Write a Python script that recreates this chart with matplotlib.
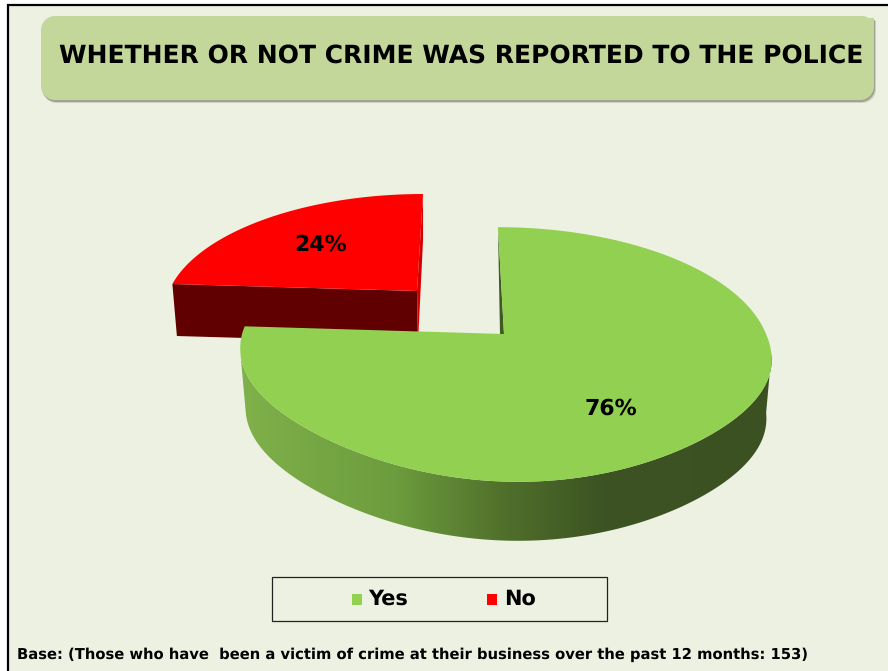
# 3D-style exploded pie: whether crime was reported to the police
import numpy as np
import matplotlib
matplotlib.use('Agg')
import matplotlib.pyplot as plt
from matplotlib.patches import Polygon, Rectangle
from matplotlib.colors import LinearSegmentedColormap

plt.rcParams['text.hinting'] = 'none'

categories = ['Yes', 'No']
shares = [76, 24]
slice_labels = ['76%', '24%']
title_text = 'WHETHER OR NOT CRIME WAS REPORTED TO THE POLICE'
base_text = 'Base: (Those who have  been a victim of crime at their business over the past 12 months: 153)'

BG = '#EDF1E1'
GREEN = '#91D050'
RED = '#FF0000'
DARK_RED = '#600000'
BANNER = '#C4D79B'

# shading along the visible rim of the big slice, left to right
rim_cmap = LinearSegmentedColormap.from_list(
    'rim', [(0.0, '#81B24B'), (0.3, '#6C9C3D'), (0.5, '#506F2B'),
            (0.68, '#3C5323'), (1.0, '#3C5122')])


# tilted disc with some perspective, angles run clockwise from 12 o'clock
# s leans the far half sideways, s_front the near half; c tucks in the near corners
def project(theta, apex, a, b, k, s, s_front=None, c=0):
    t = np.radians(theta)
    u = np.sin(t)
    v = -np.cos(t)
    den = 1 - k * v
    lean = np.where(v > 0, s if s_front is None else s_front, s)
    tuck = c * (u * np.clip(v, 0, None)) ** 2
    return apex[0] + (b * u + lean * v) / den, apex[1] + a * v / den - tuck


def wedge_outline(t0, t1, **view):
    th = np.linspace(t0, t1, 200)
    x, y = project(th, **view)
    return np.vstack([[view['apex']], np.column_stack([x, y])])


# rounded banner outline, top right corner is nearly square
def banner_outline(x0, y0, x1, y1, r):
    def arc(cx, cy, a0):
        return [(cx + r * np.cos(np.radians(a)), cy + r * np.sin(np.radians(a)))
                for a in np.linspace(a0, a0 + 90, 16)]
    pts = arc(x0 + r, y0 + r, 180)
    pts += [(x1 - 10, y0), (x1 - 5, y0 + 2), (x1, y0 + 2)]
    pts += arc(x1 - r, y1 - r, 0)
    pts += arc(x0 + r, y1 - r, 90)
    return pts


fig = plt.figure(figsize=(8.88, 6.71), dpi=100, facecolor='white')
ax = fig.add_axes([0, 0, 1, 1])

# chart area with its frame on the left and top
ax.add_patch(Rectangle((8, 5), 890, 680, fc=BG, ec='black', lw=1.6, zorder=1))

# title banner with a thin shadow
outline = banner_outline(41, 16, 874, 100, 14)
for off, alpha in [(3, 0.25), (2, 0.5)]:
    ax.add_patch(Polygon([(x + off - 1, y + off) for x, y in outline], fc='#6F7564', ec='none',
                         alpha=alpha, zorder=2))
ax.add_patch(Polygon(outline, fc=BANNER, ec='none', zorder=3))
ax.text(461.5, 56, title_text, ha='center', va='center', fontsize=18, fontweight='bold',
        color='black', zorder=4)

split = 360 * shares[0] / sum(shares)

# small slice, pulled away to the upper left
red_view = dict(apex=(417, 291), a=112.5, b=248, k=0.16, s=-7)
red_depth = 52
xl, yl = project(split, **red_view)
xf, yf = project(360, **red_view)
ax.add_patch(Polygon([(xl, yl), red_view['apex'], (418, 291 + red_depth), (xl + 4.5, yl + red_depth)],
                     fc=DARK_RED, ec='none', zorder=5))
ax.add_patch(Polygon([(xf, yf), (xf, yf + 46), (418, 291 + red_depth), red_view['apex']],
                     fc='#D40000', ec='none', zorder=5))
ax.add_patch(Polygon(wedge_outline(split, 360, **red_view), fc=RED, ec='none', zorder=6))

# big slice: rim between the two silhouette points, then inner wall and top face
green_view = dict(apex=(504, 334), a=124, b=262, k=0.161, s=7, s_front=12, c=22)
green_depth = 59
x_shrink = 0.98
x_mid = 505
sil = np.degrees(np.arcsin(green_view['k']))
angles = np.linspace(90 + sil, 270 - sil, 300)
rx, ry = project(angles, **green_view)
bx = x_mid + (rx - x_mid) * x_shrink
by = ry + green_depth
rim_shape = Polygon(np.vstack([np.column_stack([rx, ry]), np.column_stack([bx, by])[::-1]]),
                    transform=ax.transData, fc='none', ec='none')
ax.add_patch(rim_shape)
rim_img = ax.imshow(np.linspace(0, 1, 526).reshape(1, -1), cmap=rim_cmap, aspect='auto',
                    extent=(230, 780, 550, 320), zorder=7, interpolation='bilinear')
rim_img.set_clip_path(rim_shape)

xt, yt = project(0, **green_view)
ax.add_patch(Polygon([(xt, yt), (504, 334), (500, 334)], fc='#3F5A22', ec='none', zorder=7))
ax.add_patch(Polygon(wedge_outline(0, split, **green_view), fc=GREEN, ec='none', zorder=8))

# value labels
ax.text(321, 245, slice_labels[1], ha='center', va='center', fontsize=15.8, fontweight='bold', zorder=9)
ax.text(611, 409, slice_labels[0], ha='center', va='center', fontsize=15.8, fontweight='bold', zorder=9)

# legend box
ax.add_patch(Rectangle((272, 577), 335, 44, fc=BG, ec='#222222', lw=0.9, zorder=2))
ax.add_patch(Rectangle((352, 594), 10, 11, fc=GREEN, ec='none', zorder=3))
ax.text(368.5, 599, categories[0], ha='left', va='center', fontsize=15, fontweight='bold', zorder=3)
ax.add_patch(Rectangle((487, 594), 10, 11, fc=RED, ec='none', zorder=3))
ax.text(504, 599, categories[1], ha='left', va='center', fontsize=15, fontweight='bold', zorder=3)

ax.text(17, 655, base_text, ha='left', va='center', fontsize=10.67, fontweight='bold', zorder=3)

ax.set_xlim(0, 888)
ax.set_ylim(671, 0)
ax.axis('off')

fig.savefig('out.png', dpi=100, facecolor='white')
